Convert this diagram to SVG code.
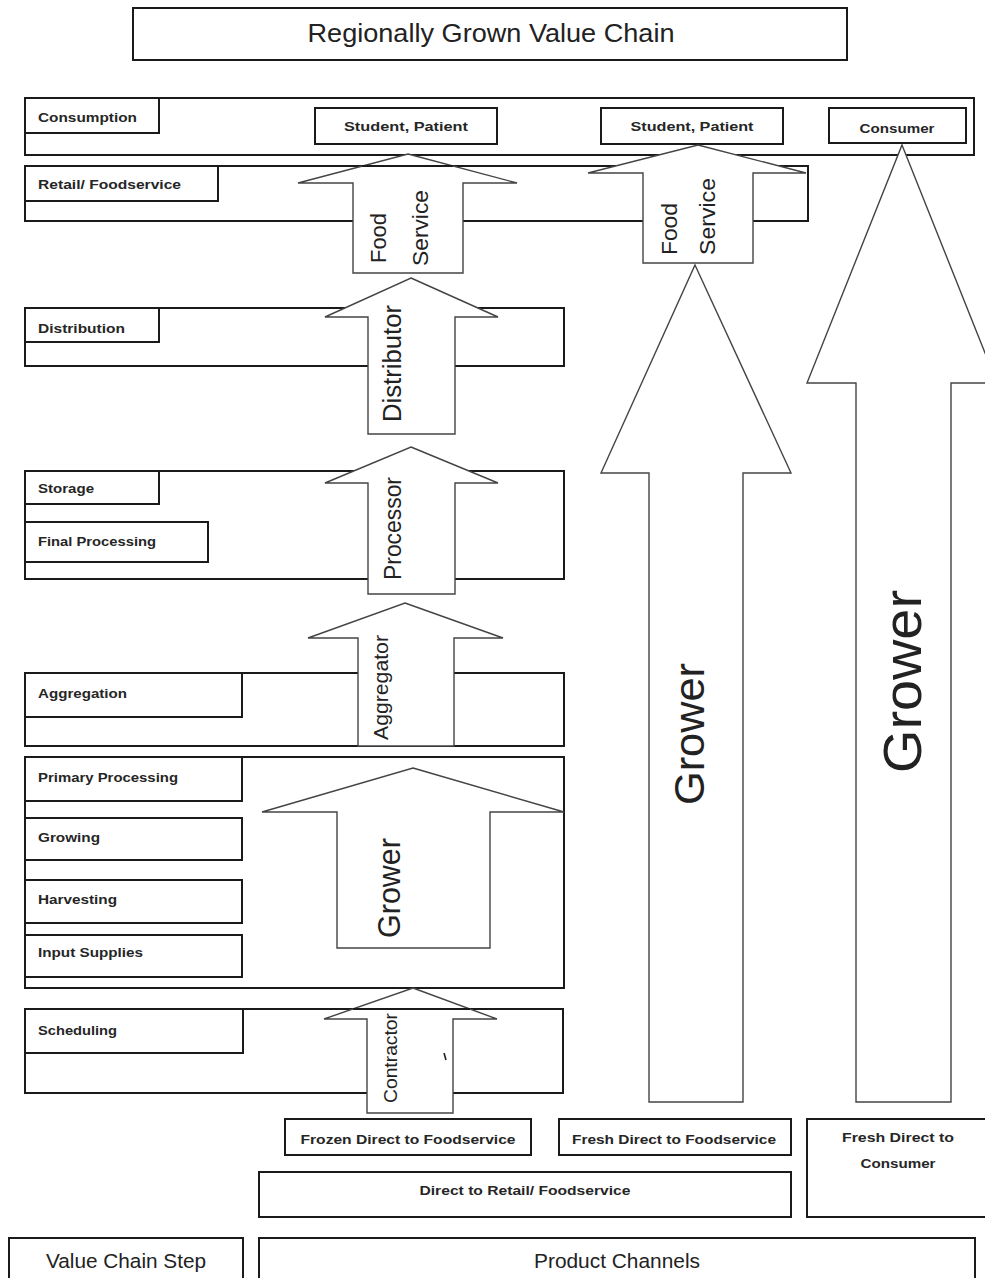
<svg xmlns="http://www.w3.org/2000/svg" width="985" height="1278" viewBox="0 0 985 1278">
<style>
.box{fill:#fff;stroke:#1a1a1a;stroke-width:2}
.arr{fill:#fff;stroke:#444;stroke-width:1.4;stroke-linejoin:miter}
.ov{stroke:#1a1a1a;stroke-width:2;fill:none}
.lbl{font-family:"Liberation Sans",Arial,sans-serif;font-size:13px;font-weight:bold;fill:#262626}
.big{font-family:"Liberation Sans",Arial,sans-serif;fill:#222}
.at{font-family:"Liberation Sans",Arial,sans-serif;fill:#222}
</style>
<rect width="985" height="1278" fill="#fff"/>
<g id="title"><rect class="box" x="133" y="8" width="714" height="52"/><text class="big" x="491" y="42" font-size="26" text-anchor="middle" textLength="367" lengthAdjust="spacingAndGlyphs">Regionally Grown Value Chain</text></g>
<g id="consumption"><rect class="box" x="25" y="98" width="949" height="57"/><rect class="box" x="25" y="98" width="134" height="35"/><text class="lbl" x="38" y="122" textLength="99" lengthAdjust="spacingAndGlyphs">Consumption</text></g>
<g id="student1"><rect class="box" x="315" y="108" width="182" height="36"/><text class="lbl" x="406" y="131" text-anchor="middle" textLength="124" lengthAdjust="spacingAndGlyphs">Student, Patient</text></g>
<g id="student2"><rect class="box" x="601" y="108" width="182" height="36"/><text class="lbl" x="692" y="131" text-anchor="middle" textLength="123" lengthAdjust="spacingAndGlyphs">Student, Patient</text></g>
<g id="consumer"><rect class="box" x="829" y="108" width="137" height="35"/><text class="lbl" x="897" y="133" text-anchor="middle" textLength="75" lengthAdjust="spacingAndGlyphs">Consumer</text></g>
<g id="retail"><rect class="box" x="25" y="166" width="783" height="55"/><rect class="box" x="25" y="166" width="193" height="35"/><text class="lbl" x="38" y="189" textLength="143" lengthAdjust="spacingAndGlyphs">Retail/ Foodservice</text></g>
<g id="distribution"><rect class="box" x="25" y="308" width="539" height="58"/><rect class="box" x="25" y="308" width="134" height="34"/><text class="lbl" x="38" y="333" textLength="87" lengthAdjust="spacingAndGlyphs">Distribution</text></g>
<g id="storage-block"><rect class="box" x="25" y="471" width="539" height="108"/><rect class="box" x="25" y="471" width="134" height="33"/><text class="lbl" x="38" y="493" textLength="56" lengthAdjust="spacingAndGlyphs">Storage</text><rect class="box" x="25" y="522" width="183" height="40"/><text class="lbl" x="38" y="546" textLength="118" lengthAdjust="spacingAndGlyphs">Final Processing</text></g>
<g id="aggregation"><rect class="box" x="25" y="673" width="539" height="73"/><rect class="box" x="25" y="673" width="217" height="44"/><text class="lbl" x="38" y="698" textLength="89" lengthAdjust="spacingAndGlyphs">Aggregation</text></g>
<g id="growing-block"><rect class="box" x="25" y="757" width="539" height="231"/>
<rect class="box" x="25" y="757" width="217" height="44"/><text class="lbl" x="38" y="782" textLength="140" lengthAdjust="spacingAndGlyphs">Primary Processing</text>
<rect class="box" x="25" y="818" width="217" height="42"/><text class="lbl" x="38" y="842" textLength="62" lengthAdjust="spacingAndGlyphs">Growing</text>
<rect class="box" x="25" y="880" width="217" height="43"/><text class="lbl" x="38" y="904" textLength="79" lengthAdjust="spacingAndGlyphs">Harvesting</text>
<rect class="box" x="25" y="935" width="217" height="42"/><text class="lbl" x="38" y="957" textLength="105" lengthAdjust="spacingAndGlyphs">Input Supplies</text></g>
<g id="scheduling"><rect class="box" x="25" y="1009" width="538" height="84"/><rect class="box" x="25" y="1009" width="218" height="44"/><text class="lbl" x="38" y="1035" textLength="79" lengthAdjust="spacingAndGlyphs">Scheduling</text></g>
<g id="frozen"><rect class="box" x="285" y="1119" width="246" height="36"/><text class="lbl" x="408" y="1144" text-anchor="middle" textLength="215" lengthAdjust="spacingAndGlyphs">Frozen Direct to Foodservice</text></g>
<g id="fresh-fs"><rect class="box" x="559" y="1119" width="232" height="36"/><text class="lbl" x="674" y="1144" text-anchor="middle" textLength="204" lengthAdjust="spacingAndGlyphs">Fresh Direct to Foodservice</text></g>
<g id="fresh-consumer"><rect class="box" x="807" y="1119" width="190" height="98"/><text class="lbl" x="898" y="1142" text-anchor="middle" textLength="112" lengthAdjust="spacingAndGlyphs">Fresh Direct to</text><text class="lbl" x="898" y="1168" text-anchor="middle" textLength="75" lengthAdjust="spacingAndGlyphs">Consumer</text></g>
<g id="direct-retail"><rect class="box" x="259" y="1172" width="532" height="45"/><text class="lbl" x="525" y="1195" text-anchor="middle" textLength="211" lengthAdjust="spacingAndGlyphs">Direct to Retail/ Foodservice</text></g>
<g id="value-chain-step"><rect class="box" x="9" y="1238" width="234" height="50"/><text class="big" x="126" y="1268" font-size="20.5" text-anchor="middle" textLength="160" lengthAdjust="spacingAndGlyphs">Value Chain Step</text></g>
<g id="product-channels"><rect class="box" x="259" y="1238" width="716" height="50"/><text class="big" x="617" y="1268" font-size="20.5" text-anchor="middle" textLength="166" lengthAdjust="spacingAndGlyphs">Product Channels</text></g>
<g id="connectors">
<g id="arrow-foodservice-1"><polygon class="arr" points="408,154 517,183 463,183 463,273 353,273 353,183 298,183"/><line class="ov" x1="362" y1="166" x2="453" y2="166"/>
<text class="at" font-size="22" transform="translate(386,263) rotate(-90)" textLength="50" lengthAdjust="spacingAndGlyphs">Food</text>
<text class="at" font-size="22" transform="translate(428,266) rotate(-90)" textLength="76" lengthAdjust="spacingAndGlyphs">Service</text></g>
<g id="arrow-foodservice-2"><polygon class="arr" points="698,145 806,173 753,173 753,263 643,263 643,173 588,173"/>
<text class="at" font-size="22" transform="translate(677,255) rotate(-90)" textLength="52" lengthAdjust="spacingAndGlyphs">Food</text>
<text class="at" font-size="22" transform="translate(715,255) rotate(-90)" textLength="77" lengthAdjust="spacingAndGlyphs">Service</text></g>
<g id="arrow-distributor"><polygon class="arr" points="411,278 498,317 455,317 455,434 368,434 368,317 325,317"/>
<text class="at" font-size="25" transform="translate(401,422) rotate(-90)" textLength="117" lengthAdjust="spacingAndGlyphs">Distributor</text></g>
<g id="arrow-processor"><polygon class="arr" points="411,447 498,483 455,483 455,594 368,594 368,483 325,483"/>
<text class="at" font-size="23" transform="translate(401,580) rotate(-90)" textLength="103" lengthAdjust="spacingAndGlyphs">Processor</text></g>
<g id="arrow-aggregator"><polygon class="arr" points="405,603 503,638 454,638 454,746 358,746 358,638 308,638"/>
<text class="at" font-size="20" transform="translate(388,740) rotate(-90)" textLength="105" lengthAdjust="spacingAndGlyphs">Aggregator</text></g>
<g id="arrow-grower-1"><polygon class="arr" points="413,768 564,812 490,812 490,948 337,948 337,812 262,812"/>
<text class="at" font-size="31" transform="translate(400,938) rotate(-90)" textLength="100" lengthAdjust="spacingAndGlyphs">Grower</text></g>
<g id="arrow-contractor"><polygon class="arr" points="413,988 497,1019 453,1019 453,1113 367,1113 367,1019 324,1019"/><line class="ov" x1="353" y1="1009" x2="470" y2="1009"/>
<text class="at" font-size="19" transform="translate(397,1103) rotate(-90)" textLength="90" lengthAdjust="spacingAndGlyphs">Contractor</text>
<path d="M444,1053 L446,1060" stroke="#222" stroke-width="1.6"/></g>
<g id="arrow-grower-2"><polygon class="arr" points="695,265 791,473 743,473 743,1102 649,1102 649,473 601,473"/>
<text class="at" font-size="43" transform="translate(704,805) rotate(-90)" textLength="142" lengthAdjust="spacingAndGlyphs">Grower</text></g>
<g id="arrow-grower-3"><polygon class="arr" points="902,145 997,383 951,383 951,1102 856,1102 856,383 807,383"/>
<text class="at" font-size="54" transform="translate(921,773) rotate(-90)" textLength="183" lengthAdjust="spacingAndGlyphs">Grower</text></g>
</g>
</svg>
